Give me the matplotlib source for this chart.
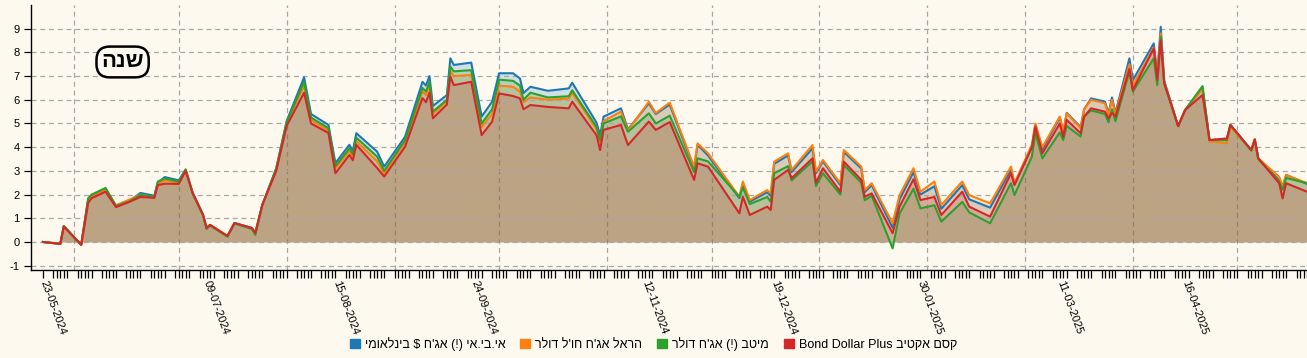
import matplotlib
matplotlib.use("Agg")
from matplotlib import pyplot as plt
from matplotlib.patches import Patch
import matplotlib.dates as mdates
import pandas as pd
import numpy as np

plt.rcParams['font.family'] = ['Liberation Sans', 'DejaVu Sans']
plt.rcParams['axes.unicode_minus'] = False

# data (cumulative return, %)
dates = [
    "2024-05-23", "2024-05-28", "2024-05-29", "2024-06-03", "2024-06-05", "2024-06-06",
    "2024-06-10", "2024-06-13", "2024-06-17", "2024-06-20", "2024-06-24", "2024-06-25",
    "2024-06-27", "2024-07-01", "2024-07-03", "2024-07-05", "2024-07-08", "2024-07-09",
    "2024-07-10", "2024-07-15", "2024-07-17", "2024-07-22", "2024-07-23", "2024-07-25",
    "2024-07-29", "2024-08-01", "2024-08-06", "2024-08-08", "2024-08-13", "2024-08-15",
    "2024-08-19", "2024-08-20", "2024-08-21", "2024-08-27", "2024-08-29", "2024-09-04",
    "2024-09-09", "2024-09-10", "2024-09-11", "2024-09-12", "2024-09-16", "2024-09-17",
    "2024-09-18", "2024-09-23", "2024-09-26", "2024-09-29", "2024-10-01", "2024-10-05",
    "2024-10-07", "2024-10-08", "2024-10-10", "2024-10-15", "2024-10-21", "2024-10-22",
    "2024-10-29", "2024-10-30", "2024-10-31", "2024-11-05", "2024-11-07", "2024-11-13",
    "2024-11-15", "2024-11-19", "2024-11-26", "2024-11-27", "2024-11-30", "2024-12-09",
    "2024-12-10", "2024-12-12", "2024-12-17", "2024-12-18", "2024-12-19", "2024-12-23",
    "2024-12-24", "2024-12-30", "2024-12-31", "2025-01-02", "2025-01-07", "2025-01-08",
    "2025-01-13", "2025-01-14", "2025-01-16", "2025-01-22", "2025-01-24", "2025-01-28",
    "2025-01-30", "2025-02-03", "2025-02-05", "2025-02-11", "2025-02-13", "2025-02-19",
    "2025-02-25", "2025-02-26", "2025-03-03", "2025-03-04", "2025-03-06", "2025-03-11",
    "2025-03-12", "2025-03-13", "2025-03-17", "2025-03-18", "2025-03-20", "2025-03-24",
    "2025-03-25", "2025-03-26", "2025-03-27", "2025-03-31", "2025-04-01", "2025-04-07",
    "2025-04-08", "2025-04-09", "2025-04-10", "2025-04-14", "2025-04-16", "2025-04-21",
    "2025-04-23", "2025-04-28", "2025-04-29", "2025-05-05", "2025-05-06", "2025-05-07",
    "2025-05-13", "2025-05-14", "2025-05-15", "2025-05-21",
]

ibi = [
    0.00, -0.08, 0.67, -0.12, 1.80, 1.95, 2.22, 1.50, 1.75, 2.07, 1.95, 2.50,
    2.74, 2.60, 3.05, 2.07, 1.14, 0.59, 0.72, 0.25, 0.80, 0.59, 0.38, 1.56,
    3.10, 5.10, 6.95, 5.40, 4.94, 3.33, 4.10, 3.85, 4.59, 3.81, 3.18, 4.44,
    6.76, 6.60, 7.00, 5.74, 6.20, 7.75, 7.47, 7.57, 5.29, 5.92, 7.12, 7.12,
    6.90, 6.28, 6.55, 6.38, 6.48, 6.72, 5.03, 4.50, 5.29, 5.64, 4.75, 5.85,
    5.40, 5.80, 3.10, 4.10, 3.65, 1.85, 2.45, 1.70, 2.10, 1.95, 3.30, 3.65,
    2.95, 3.95, 2.90, 3.40, 2.40, 3.80, 3.10, 2.10, 2.40, 0.60, 1.80, 2.95,
    2.00, 2.35, 1.40, 2.40, 1.80, 1.45, 3.05, 2.45, 4.02, 4.95, 3.90, 5.25,
    4.60, 5.45, 4.85, 5.60, 6.06, 5.92, 5.43, 6.10, 5.45, 7.75, 6.83, 8.38,
    7.10, 9.08, 6.80, 4.89, 5.57, 6.50, 4.30, 4.35, 4.94, 3.88, 4.33, 3.53,
    2.60, 2.30, 2.83, 2.45,
]

harel = [
    0.00, -0.08, 0.66, -0.12, 1.72, 1.90, 2.20, 1.55, 1.80, 2.00, 1.90, 2.45,
    2.60, 2.50, 3.02, 2.07, 1.14, 0.59, 0.72, 0.25, 0.80, 0.59, 0.40, 1.56,
    3.05, 5.00, 6.60, 5.15, 4.70, 3.10, 3.85, 3.60, 4.25, 3.40, 2.90, 4.20,
    6.35, 6.20, 6.60, 5.40, 5.95, 7.20, 7.00, 7.05, 4.85, 5.40, 6.60, 6.55,
    6.35, 5.90, 6.10, 6.00, 6.05, 6.30, 4.75, 4.20, 5.10, 5.50, 4.70, 5.92,
    5.44, 5.88, 3.18, 4.16, 3.74, 1.91, 2.55, 1.77, 2.19, 2.05, 3.39, 3.74,
    3.04, 4.09, 2.97, 3.46, 2.48, 3.88, 3.18, 2.19, 2.48, 0.79, 1.98, 3.11,
    2.12, 2.55, 1.56, 2.55, 1.98, 1.63, 3.18, 2.48, 4.10, 5.00, 4.00, 5.29,
    4.70, 5.43, 4.80, 5.60, 6.00, 5.85, 5.35, 6.00, 5.40, 7.50, 6.60, 8.20,
    7.00, 8.80, 6.75, 4.89, 5.57, 6.45, 4.25, 4.16, 4.85, 3.88, 4.33, 3.53,
    2.75, 2.36, 2.83, 2.48,
]

meitav = [
    0.00, -0.08, 0.67, -0.12, 1.85, 2.00, 2.28, 1.52, 1.72, 1.98, 1.92, 2.55,
    2.68, 2.55, 3.06, 2.05, 1.12, 0.55, 0.70, 0.22, 0.78, 0.55, 0.30, 1.56,
    3.10, 5.05, 6.76, 5.25, 4.80, 3.20, 3.95, 3.70, 4.40, 3.60, 3.00, 4.30,
    6.50, 6.35, 6.75, 5.50, 6.00, 7.40, 7.20, 7.25, 5.00, 5.60, 6.85, 6.80,
    6.60, 6.00, 6.30, 6.10, 6.15, 6.40, 4.85, 4.30, 5.00, 5.30, 4.65, 5.43,
    5.00, 5.33, 2.95, 3.53, 3.40, 1.90, 2.30, 1.60, 1.90, 1.70, 2.90, 3.20,
    2.60, 3.40, 2.36, 2.90, 2.00, 3.25, 2.50, 1.76, 1.95, -0.27, 1.20, 2.25,
    1.42, 1.55, 0.86, 1.69, 1.25, 0.79, 2.48, 1.98, 3.60, 4.60, 3.53, 4.62,
    4.30, 4.90, 4.45, 5.30, 5.55, 5.40, 5.05, 5.60, 5.10, 7.20, 6.35, 7.75,
    6.62, 8.66, 6.70, 4.89, 5.57, 6.58, 4.30, 4.30, 4.94, 3.85, 4.30, 3.50,
    2.55, 2.20, 2.70, 2.48,
]

kesem = [
    0.00, -0.08, 0.65, -0.12, 1.65, 1.85, 2.12, 1.47, 1.70, 1.90, 1.86, 2.40,
    2.46, 2.45, 3.00, 2.07, 1.14, 0.59, 0.72, 0.25, 0.80, 0.59, 0.38, 1.56,
    3.00, 4.90, 6.30, 5.00, 4.60, 2.90, 3.67, 3.45, 4.10, 3.12, 2.76, 4.02,
    6.07, 5.90, 6.30, 5.22, 5.80, 6.98, 6.62, 6.76, 4.51, 5.08, 6.27, 6.16,
    6.06, 5.60, 5.78, 5.70, 5.64, 5.92, 4.50, 3.88, 4.73, 4.94, 4.09, 5.08,
    4.73, 5.06, 2.62, 3.32, 3.18, 1.21, 1.91, 1.14, 1.49, 1.35, 2.62, 3.04,
    2.69, 3.53, 2.50, 3.11, 2.12, 3.39, 2.62, 1.91, 2.05, 0.37, 1.49, 2.65,
    1.77, 1.90, 1.14, 2.12, 1.49, 1.07, 2.90, 2.40, 4.00, 4.87, 3.74, 5.00,
    4.44, 5.15, 4.59, 5.29, 5.64, 5.50, 5.22, 5.45, 5.29, 7.30, 6.41, 8.17,
    6.84, 8.52, 6.70, 4.89, 5.57, 6.20, 4.30, 4.37, 4.94, 3.88, 4.33, 3.53,
    2.48, 1.84, 2.48, 2.12,
]

label_dates = ["2024-05-23", "2024-07-09", "2024-08-15", "2024-09-24", "2024-11-12",
               "2024-12-19", "2025-01-30", "2025-03-11", "2025-04-16"]


def heb(s):
    # matplotlib has no bidi, so flip hebrew to visual order
    return s[::-1].translate(str.maketrans("()", ")("))


names = [heb("אי.בי.אי (!) אג'ח $ בינלאומי"),
         heb("הראל אג'ח חו'ל דולר"),
         heb("מיטב (!) אג'ח דולר"),
         "Bond Dollar Plus " + heb("קסם אקטיב")]
series = [ibi, harel, meitav, kesem]
colors = ["#1f77b4", "#ff7f0e", "#2ca02c", "#d62728"]
bg = "#fdf9ee"

x = pd.to_datetime(dates)

fig = plt.figure(figsize=(13.07, 3.58), dpi=100, facecolor=bg)
ax = fig.add_axes([0.0235, 0.246, 0.9765, 0.740])
ax.set_facecolor(bg)

for vals, c in zip(series, colors):
    ax.fill_between(x, vals, 0, color=c, alpha=0.2, linewidth=0)
for vals, c in zip(series, colors):
    ax.plot(x, vals, color=c, linewidth=1.5, solid_joinstyle='round')

ax.set_ylim(-1.18, 10)
ax.set_xlim(pd.Timestamp("2024-05-19 12:00"), x[-1])
ax.set_yticks(range(-1, 10))
ax.grid(axis='y', linestyle=(0, (4, 3)), color='#a8a8a8', linewidth=0.9)

# vertical grid at month starts
for m in pd.date_range("2024-06-01", "2025-05-01", freq="MS"):
    ax.axvline(m, linestyle=(0, (4, 3)), color='#a8a8a8', linewidth=0.9, zorder=0.5)

ax.set_xticks(pd.to_datetime(label_dates))
ax.xaxis.set_major_formatter(mdates.DateFormatter("%d-%m-%Y"))
trade_days = pd.bdate_range("2024-05-23", x[-1], freq="C", weekmask="Sun Mon Tue Wed Thu")
ax.set_xticks(trade_days, minor=True)
ax.tick_params(axis='x', which='both', length=6, width=0.9, color='black')
ax.tick_params(axis='x', which='major', labelsize=8, pad=2)
ax.tick_params(axis='y', length=5, width=0.9, labelsize=8, pad=3)
for lab in ax.get_xticklabels():
    lab.set_rotation(-70)
    lab.set_ha('left')
    lab.set_va('center')
    lab.set_rotation_mode('anchor')

for s in ['top', 'right']:
    ax.spines[s].set_visible(False)
ax.spines['left'].set_linewidth(1.0)
ax.spines['bottom'].set_linewidth(1.0)

ax.text(0.072, 0.785, heb("שנה"), transform=ax.transAxes, fontsize=16, fontweight='bold',
        ha='center', va='center',
        bbox=dict(boxstyle='round,pad=0.22,rounding_size=0.6', facecolor=bg,
                  edgecolor='black', linewidth=1.8))

handles = [Patch(facecolor=c, edgecolor=c) for c in colors]
fig.legend(handles, names, loc='center', bbox_to_anchor=(0.5, 0.04), ncol=4,
           frameon=False, fontsize=9, handlelength=0.8, handleheight=0.8,
           handletextpad=0.4, columnspacing=1.2)

fig.savefig("out.png", dpi=100, facecolor=bg)
